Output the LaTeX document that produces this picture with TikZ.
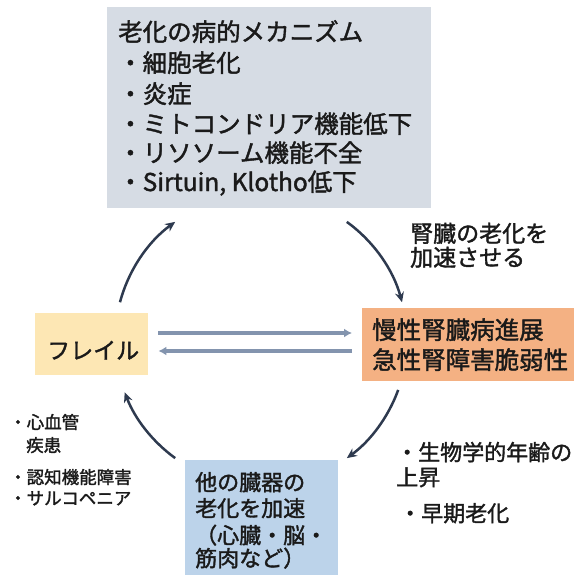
\documentclass[tikz,border=0pt]{standalone}
\usepackage{fontspec}
\setmainfont{Noto Sans CJK JP}[FakeBold=1.6]
\usetikzlibrary{arrows.meta}
\definecolor{topc}{HTML}{D6DCE4}
\definecolor{frc}{HTML}{FDE7B4}
\definecolor{orc}{HTML}{F4B183}
\definecolor{blc}{HTML}{BCD3EA}
\definecolor{cycc}{HTML}{2E3A4F}
\definecolor{dblc}{HTML}{8394AE}
\definecolor{txtc}{HTML}{1A1A1A}
\tikzset{
  box/.style={draw=none, inner sep=0pt, anchor=north west},
  txt/.style={inner sep=0pt, anchor=base west, text=txtc},
  fa/.style={font=\fontsize{24.5}{28}\selectfont},
  fb/.style={font=\fontsize{23}{26}\selectfont},
  fc/.style={font=\fontsize{22}{25}\selectfont},
  fd/.style={font=\fontsize{17.5}{20}\selectfont},
  cyc/.style={draw=cycc, line width=2.5pt, -{Stealth[length=10pt,width=9pt]}},
  dbl/.style={draw=dblc, line width=4pt, -{Latex[length=8pt,width=9pt]}}
}
\begin{document}
\begin{tikzpicture}[x=1pt,y=-1pt]
\useasboundingbox (0,0) rectangle (574,575);
% boxes
\node[box, fill=topc, minimum width=324pt, minimum height=201pt] (top) at (107,7) {};
\node[box, fill=frc, minimum width=113pt, minimum height=62pt] (fr) at (35,313) {};
\node[box, fill=orc, minimum width=212pt, minimum height=73pt] (ck) at (362,308) {};
\node[box, fill=blc, minimum width=153pt, minimum height=115pt] (bl) at (185,460) {};
% top box text
\node[txt,fa] (t0) at (118,41) {老化の病的メカニズム};
\node[txt,fa] (t1) at (118,72) {・細胞老化};
\node[txt,fa] (t2) at (118,103) {・炎症};
\node[txt,fa] (t3) at (118,133) {・ミトコンドリア機能低下};
\node[txt,fa] (t4) at (118,162) {・リソソーム機能不全};
\node[txt,fa] (t5) at (118,191) {・Sirtuin, Klotho低下};
% frailty
\node[txt,fb] (frt) at (47,359) {フレイル};
% orange
\node[txt,fa] (ck1) at (372,339) {慢性腎臓病進展};
\node[txt,fa] (ck2) at (372,369) {急性腎障害脆弱性};
% blue
\node[txt,fc] (b1) at (195,490.5) {他の臓器の};
\node[txt,fc] (b2) at (195,516.5) {老化を加速};
\node[txt,fc] (b3) at (195,543.5) {（心臓・脳・};
\node[txt,fc] (b4) at (195,566.5) {筋肉など）};
% label on arrow
\node[txt,fb] (k1) at (410,242) {腎臓の老化を};
\node[txt,fb] (k2) at (410,266) {加速させる};
% right notes
\node[txt,fc] (r1) at (396,460.5) {・生物学的年齢の};
\node[txt,fc] (r2) at (396,485.5) {上昇};
\node[txt,fc] (r3) at (399,521.5) {・早期老化};
% left notes
\node[txt,fd] (l1) at (9,428.7) {・心血管};
\node[txt,fd] (l2) at (26,451.7) {疾患};
\node[txt,fd] (l3) at (9,483.7) {・認知機能障害};
\node[txt,fd] (l4) at (9,504.7) {・サルコペニア};
% cycle arrows
\coordinate (cc) at (261,340);
\coordinate (a1) at ([shift={(165:146pt)}]cc);
\coordinate (a2) at ([shift={(54:146pt)}]cc);
\coordinate (a3) at ([shift={(-20:146pt)}]cc);
\coordinate (a4) at ([shift={(-126:146pt)}]cc);
\draw[cyc] (a1) arc[start angle=165, end angle=126, radius=146pt];
\draw[cyc] (a2) arc[start angle=54, end angle=15, radius=146pt];
\draw[cyc] (a3) arc[start angle=-20, end angle=-54, radius=146pt];
\draw[cyc] (a4) arc[start angle=-126, end angle=-159, radius=146pt];
% double arrows
\coordinate (u) at (0,333);
\coordinate (d) at (0,351);
\draw[dbl, shorten <=10pt, shorten >=10pt] (fr.east |- u) -- (ck.west |- u);
\draw[dbl, shorten <=10pt, shorten >=10pt] (ck.west |- d) -- (fr.east |- d);
\end{tikzpicture}
\end{document}
